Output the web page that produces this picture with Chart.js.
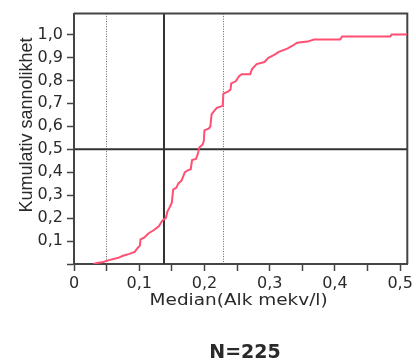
<!DOCTYPE html>
<html>
<head>
<meta charset="utf-8">
<script src="https://cdn.jsdelivr.net/npm/chart.js@4"></script>
<style>
  html, body { margin: 0; padding: 0; background: #fff; }
</style>
</head>
<body>
<canvas id="cdfChart" width="416" height="360"></canvas>
<script>
// cumulative curve
const medianAlk = [
  0.030, 0.035, 0.045, 0.055, 0.068, 0.075, 0.085, 0.093, 0.098, 0.101,
  0.102, 0.108, 0.114, 0.122, 0.130, 0.135, 0.138, 0.141, 0.143, 0.147,
  0.150, 0.152, 0.157, 0.160, 0.165, 0.170, 0.175, 0.179, 0.181, 0.187,
  0.190, 0.192, 0.197, 0.199, 0.200, 0.207, 0.209, 0.211, 0.215, 0.219,
  0.228, 0.229, 0.236, 0.240, 0.241, 0.248, 0.253, 0.257, 0.270, 0.273,
  0.280, 0.292, 0.298, 0.307, 0.314, 0.327, 0.335, 0.342, 0.358, 0.368,
  0.408, 0.411, 0.485, 0.487, 0.511
];
const cumProb = [
  0.000, 0.004, 0.009, 0.018, 0.027, 0.036, 0.044, 0.053, 0.071, 0.080,
  0.107, 0.116, 0.133, 0.147, 0.164, 0.187, 0.196, 0.200, 0.227, 0.249,
  0.267, 0.324, 0.333, 0.351, 0.364, 0.400, 0.409, 0.413, 0.453, 0.458,
  0.480, 0.507, 0.520, 0.536, 0.582, 0.591, 0.600, 0.653, 0.667, 0.680,
  0.689, 0.742, 0.751, 0.760, 0.787, 0.796, 0.818, 0.827, 0.827, 0.849,
  0.871, 0.880, 0.898, 0.911, 0.924, 0.938, 0.951, 0.964, 0.969, 0.978,
  0.978, 0.991, 0.991, 1.000, 1.000
];

// reference lines
const p5Line = 0.049;
const medianLine = 0.138;
const p95Line = 0.229;
const halfLine = 0.5;

const xTickValues = [0, 0.05, 0.1, 0.15, 0.2, 0.25, 0.3, 0.35, 0.4, 0.45, 0.5];
const xTickLabels = ['0', '', '0,1', '', '0,2', '', '0,3', '', '0,4', '', '0,5'];
const yTickValues = [0, 0.1, 0.2, 0.3, 0.4, 0.5, 0.6, 0.7, 0.8, 0.9, 1.0];
const yTickLabels = ['', '0,1', '0,2', '0,3', '0,4', '0,5', '0,6', '0,7', '0,8', '0,9', '1,0'];

const xTitle = 'Median(Alk mekv/l)';
const yTitle = 'Kumulativ sannolikhet';
const countLabel = 'N=225';

const axisColor = '#444';
const textColor = '#2a2a2a';

const refLines = {
    id: 'refLines',
    beforeDatasetsDraw(chart) {
        const { ctx, chartArea: a, scales: { x, y } } = chart;
        ctx.save();
        ctx.strokeStyle = '#666';
        ctx.lineWidth = 1;
        ctx.setLineDash([1, 1.5]);
        [p5Line, p95Line].forEach(v => {
            const px = Math.round(x.getPixelForValue(v)) + 0.5;
            ctx.beginPath();
            ctx.moveTo(px, a.top);
            ctx.lineTo(px, a.bottom);
            ctx.stroke();
        });
        ctx.setLineDash([]);
        ctx.strokeStyle = '#333';
        ctx.lineWidth = 2;
        const mx = x.getPixelForValue(medianLine);
        const hy = y.getPixelForValue(halfLine);
        ctx.beginPath();
        ctx.moveTo(mx, a.top);
        ctx.lineTo(mx, a.bottom);
        ctx.moveTo(a.left, hy);
        ctx.lineTo(a.right, hy);
        ctx.stroke();
        // frame top + right
        ctx.strokeStyle = axisColor;
        ctx.beginPath();
        ctx.moveTo(a.left, a.top);
        ctx.lineTo(a.right, a.top);
        ctx.lineTo(a.right, a.bottom);
        ctx.stroke();
        ctx.restore();
    }
};

const axisText = {
    id: 'axisText',
    afterDraw(chart) {
        const { ctx, chartArea: a } = chart;
        ctx.save();
        ctx.fillStyle = textColor;
        ctx.textAlign = 'center';
        ctx.textBaseline = 'alphabetic';

        ctx.save();
        ctx.translate((a.left + a.right) / 2 - 2, 304.5);
        ctx.scale(1.23, 1);
        ctx.font = '15px "DejaVu Sans"';
        ctx.fillText(xTitle, 0, 0);
        ctx.restore();

        ctx.save();
        ctx.translate(31.5, 125);
        ctx.rotate(-Math.PI / 2);
        ctx.font = '18px "Liberation Sans"';
        ctx.fillText(yTitle, 0, 0);
        ctx.restore();

        ctx.font = 'bold 19px "DejaVu Sans"';
        ctx.fillText(countLabel, 245, 358);
        ctx.restore();
    }
};

new Chart(document.getElementById('cdfChart'), {
    type: 'line',
    data: {
        datasets: [{
            data: medianAlk.map((v, i) => ({ x: v, y: cumProb[i] })),
            borderColor: '#ff5073',
            borderWidth: 2,
            pointRadius: 0,
            tension: 0,
            fill: false
        }]
    },
    options: {
        responsive: false,
        animation: false,
        layout: { padding: { top: 13, right: 7, left: 0, bottom: 0 } },
        plugins: { legend: { display: false }, tooltip: { enabled: false } },
        scales: {
            x: {
                type: 'linear',
                min: 0,
                max: 0.511,
                afterBuildTicks: s => { s.ticks = xTickValues.map(v => ({ value: v })); },
                afterFit: s => { s.height = 96; },
                ticks: {
                    callback: (v, i) => xTickLabels[i],
                    autoSkip: false,
                    maxRotation: 0,
                    padding: 3,
                    color: textColor,
                    font: { family: 'DejaVu Sans', size: 16 }
                },
                grid: { drawOnChartArea: false, tickLength: 7, tickColor: axisColor, tickWidth: 1.5 },
                border: { color: axisColor, width: 2 }
            },
            y: {
                min: 0,
                max: 1.091,
                afterBuildTicks: s => { s.ticks = yTickValues.map(v => ({ value: v })); },
                afterFit: s => { s.width = 74; },
                ticks: {
                    callback: (v, i) => yTickLabels[i],
                    autoSkip: false,
                    padding: 4,
                    color: textColor,
                    font: { family: 'DejaVu Sans', size: 16 }
                },
                grid: { drawOnChartArea: false, tickLength: 7, tickColor: axisColor, tickWidth: 1.5 },
                border: { color: axisColor, width: 2 }
            }
        }
    },
    plugins: [refLines, axisText]
});
</script>
</body>
</html>
